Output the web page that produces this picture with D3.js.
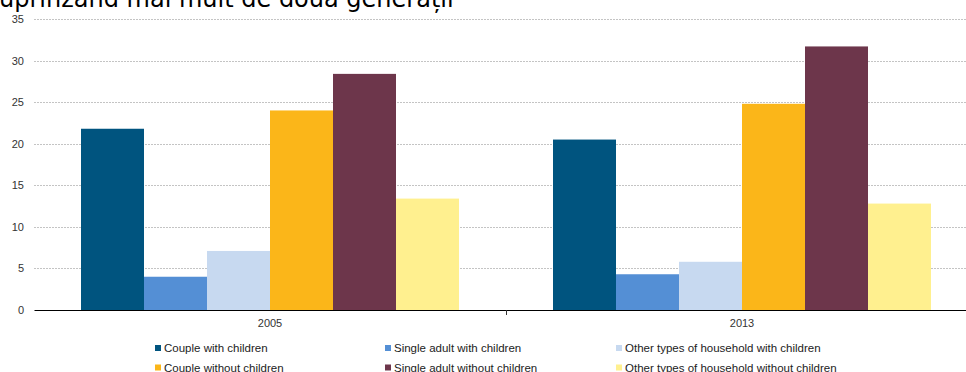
<!DOCTYPE html>
<html>
<head>
<meta charset="utf-8">
<script src="https://cdn.jsdelivr.net/npm/d3@7"></script>
<style>
  body { margin: 0; background: #fff; }
  svg { display: block; font-family: "Liberation Sans", Arial, sans-serif; }
</style>
</head>
<body>
<svg id="chart" width="966" height="372"></svg>
<script>
// data
var years = ["2005", "2013"]
var seriesNames = [
    "Couple with children",
    "Single adult with children",
    "Other types of household with children",
    "Couple without children",
    "Single adult without children",
    "Other types of household without children"
]
var values2005 = [21.8, 4.0, 7.1, 24.0, 28.4, 13.4]
var values2013 = [20.5, 4.3, 5.8, 24.8, 31.7, 12.8]
var colors = ["#00547f", "#548fd5", "#c7d9f0", "#fbb619", "#6d364b", "#fff08f"]
var yTicks = [0, 5, 10, 15, 20, 25, 30, 35]

var allValues = [values2005, values2013]

var svg = d3.select("#chart")

// title, mostly cut off at the top (as in the source image)
svg.append("text")
    .attr("x", -1)
    .attr("y", 7)
    .attr("font-family", "DejaVu Sans")
    .attr("font-size", 24)
    .attr("fill", "#000")
    .text("uprinzând mai mult de două generații")

var x0 = d3.scaleBand()
    .domain(years)
    .range([34, 978])

var x1 = d3.scaleBand()
    .domain(d3.range(seriesNames.length))
    .range([47, x0.bandwidth() - 47])

var y = d3.scaleLinear()
    .domain([0, 35])
    .range([310, 19])

// grid
svg.append("g")
    .selectAll("line")
    .data(yTicks.filter(function(d) { return d > 0 }))
    .enter().append("line")
    .attr("x1", 34)
    .attr("x2", 966)
    .attr("y1", function(d) { return Math.round(y(d)) + 0.5 })
    .attr("y2", function(d) { return Math.round(y(d)) + 0.5 })
    .attr("stroke", "#c4c4c4")
    .attr("stroke-dasharray", "2,1")

// y labels
svg.append("g")
    .selectAll("text")
    .data(yTicks)
    .enter().append("text")
    .attr("x", 24)
    .attr("y", function(d) { return y(d) + 4 })
    .attr("text-anchor", "end")
    .attr("font-size", 11)
    .attr("fill", "#333")
    .text(function(d) { return d })

// bars
var groups = svg.append("g")
    .selectAll("g")
    .data(allValues)
    .enter().append("g")
    .attr("transform", function(d, i) { return "translate(" + x0(years[i]) + ",0)" })

groups.selectAll("rect")
    .data(function(d) { return d })
    .enter().append("rect")
    .attr("x", function(d, i) { return x1(i) })
    .attr("width", x1.bandwidth())
    .attr("y", function(d) { return y(d) })
    .attr("height", function(d) { return y(0) - y(d) })
    .attr("fill", function(d, i) { return colors[i] })

// x axis
var xAxis = svg.append("g")
    .attr("transform", "translate(0,310)")
    .call(d3.axisBottom(x0).tickSize(0).tickPadding(9))
xAxis.select(".domain").attr("stroke", "#000").attr("d", "M34.5,0.5H978")
xAxis.selectAll("text")
    .attr("font-size", 11)
    .attr("font-family", "Liberation Sans, Arial, sans-serif")
    .attr("fill", "#333")

// boundary tick between the years
svg.append("line")
    .attr("x1", x0("2013") + 0.5)
    .attr("x2", x0("2013") + 0.5)
    .attr("y1", 310)
    .attr("y2", 315)
    .attr("stroke", "#333")

// legend
var legendCols = [155, 385, 616]
var legend = svg.append("g")
    .selectAll("g")
    .data(seriesNames)
    .enter().append("g")
    .attr("transform", function(d, i) {
        return "translate(" + legendCols[i % 3] + "," + (348 + Math.floor(i / 3) * 19.5) + ")"
    })

legend.append("rect")
    .attr("x", 0)
    .attr("y", -3)
    .attr("width", 6)
    .attr("height", 6)
    .attr("fill", function(d, i) { return colors[i] })

legend.append("text")
    .attr("x", 9)
    .attr("y", 4)
    .attr("font-size", 11.5)
    .attr("fill", "#222")
    .text(function(d) { return d })
</script>
</body>
</html>
